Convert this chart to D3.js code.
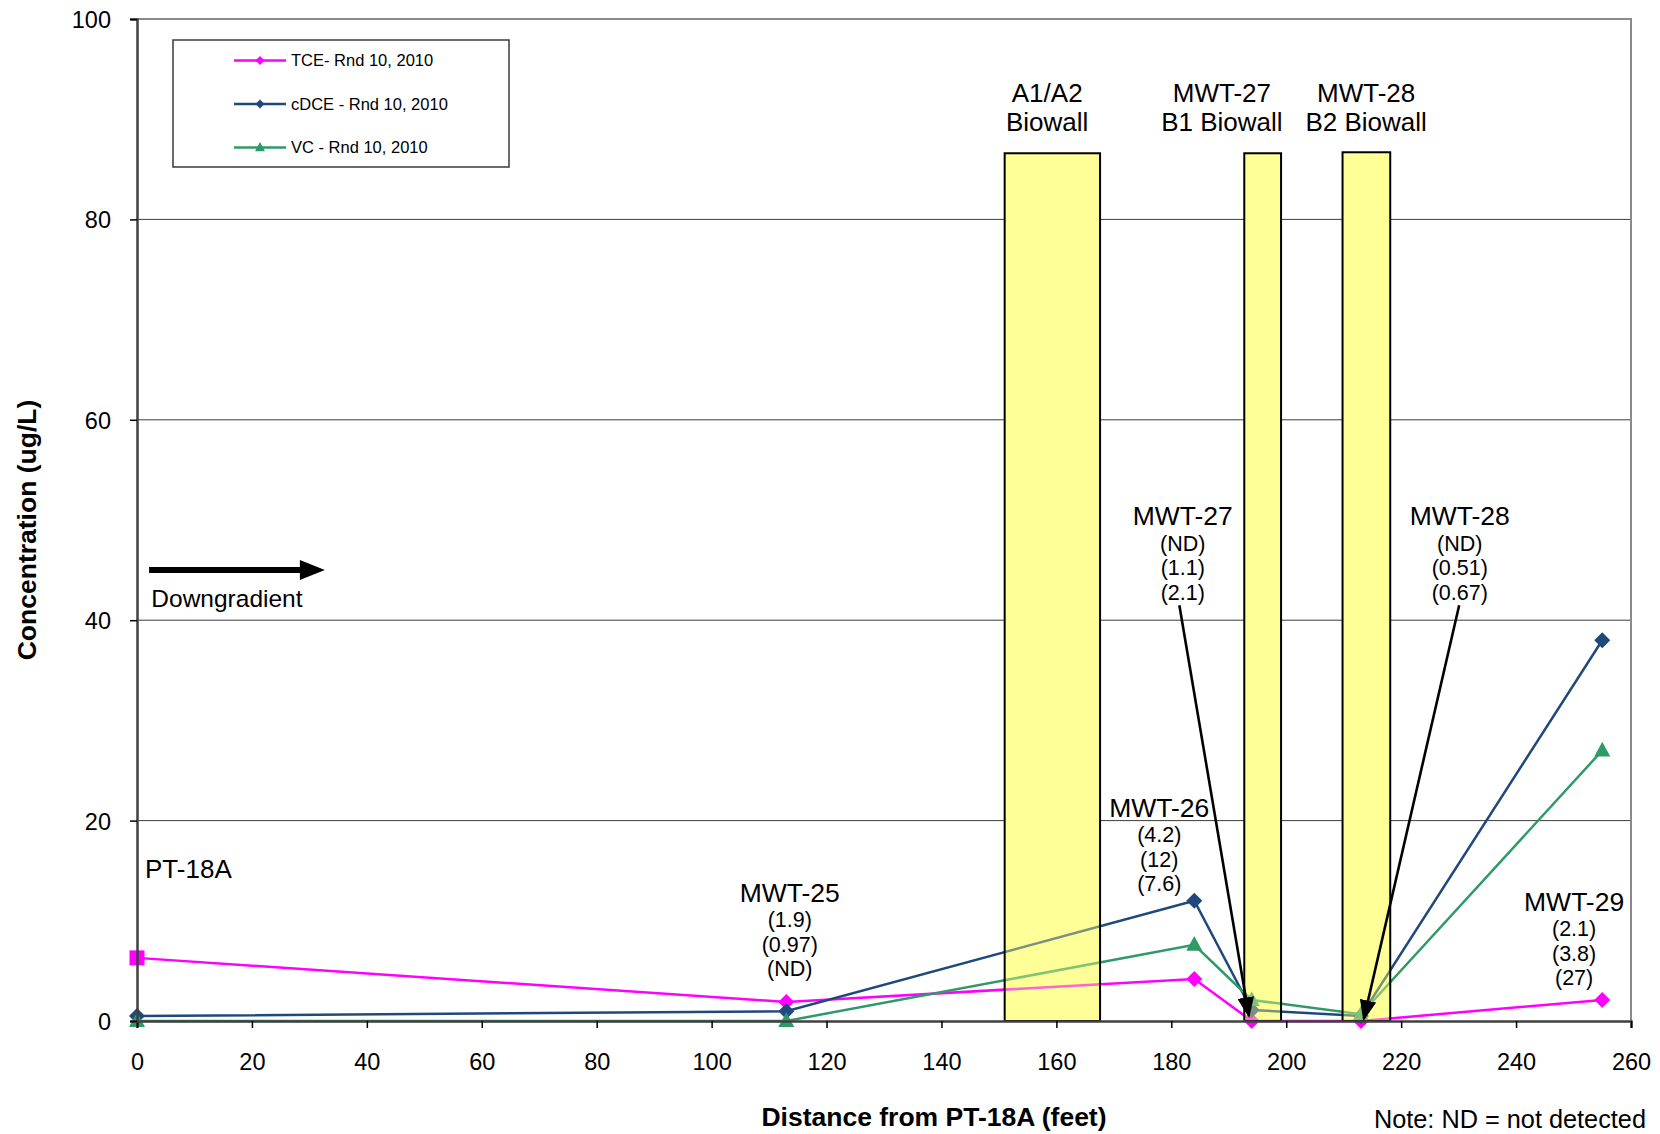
<!DOCTYPE html>
<html>
<head>
<meta charset="utf-8">
<script src="https://cdn.jsdelivr.net/npm/d3@7"></script>
<style>
  body { margin: 0; background: #fff; }
  text { font-family: "Liberation Sans", Arial, sans-serif; fill: #000; }
</style>
</head>
<body>
<div id="chart"></div>
<script>
// wells along the transect
const wells = ['PT-18A', 'MWT-25', 'MWT-26', 'MWT-27', 'MWT-28', 'MWT-29']
const distance = [0, 113, 184, 194, 213, 255]
const tce = [6.3, 1.9, 4.2, 0, 0, 2.1]
const cdce = [0.5, 0.97, 12, 1.1, 0.51, 38]
const vc = [0, 0, 7.6, 2.1, 0.67, 27]

const seriesNames = ['TCE- Rnd 10, 2010', 'cDCE - Rnd 10, 2010', 'VC - Rnd 10, 2010']
const seriesColors = ['#ff00ff', '#1f497d', '#2e9a68']

const xTicks = [0, 20, 40, 60, 80, 100, 120, 140, 160, 180, 200, 220, 240, 260]
const yTicks = [0, 20, 40, 60, 80, 100]

// biowalls (feet, ug/L)
const wallStart = [151, 192.7, 209.8]
const wallEnd = [167.6, 199.1, 218.1]
const wallTop = [86.6, 86.6, 86.7]
const wallLabel = [['A1/A2', 'Biowall'], ['MWT-27', 'B1 Biowall'], ['MWT-28', 'B2 Biowall']]
const wallLabelX = [158.4, 188.8, 213.9]
const wallLabelY = 92.6

// well labels with measured values (TCE, cDCE, VC)
const labelWell = ['MWT-25', 'MWT-26', 'MWT-27', 'MWT-28', 'MWT-29']
const labelX = [113.6, 177.9, 182.0, 230.2, 250.1]
const labelY = [12.8, 21.3, 50.4, 50.4, 11.9]
const labelValues = [
  ['(1.9)', '(0.97)', '(ND)'],
  ['(4.2)', '(12)', '(7.6)'],
  ['(ND)', '(1.1)', '(2.1)'],
  ['(ND)', '(0.51)', '(0.67)'],
  ['(2.1)', '(3.8)', '(27)']
]
// callout arrows [x0, y0, x1, y1]
const callouts = [[181.4, 41.5, 193.5, 0.5], [230.1, 41.5, 213.5, 0.2]]

// marker outlines, r = half width
const diamond = r => `M0,${-r}L${r},0L0,${r}L${-r},0Z`
const triangle = r => `M0,${-r * 1.1}L${r},${r * 0.75}L${-r},${r * 0.75}Z`
const square = r => `M${-r},${-r}H${r}V${r}H${-r}Z`

class BiowallChart {
  constructor (conf) {
    this.width = conf.width
    this.height = conf.height
    this.left = 137
    this.right = 1631
    this.top = 19
    this.bottom = 1021
    this.initSvg(conf.id)
  }

  initSvg (id) {
    this.svg = d3.select(`#${id}`)
      .append('svg')
      .attr('width', this.width)
      .attr('height', this.height)
    const defs = this.svg.append('defs')
    defs.append('marker')
      .attr('id', 'head')
      .attr('viewBox', '0 0 10 8')
      .attr('refX', 9).attr('refY', 4)
      .attr('markerWidth', 8).attr('markerHeight', 6.4)
      .attr('markerUnits', 'strokeWidth')
      .attr('orient', 'auto')
      .append('path')
      .attr('d', 'M0,0 L10,4 L0,8 Z')
      .attr('fill', '#000')
    this.x = d3.scaleLinear().domain([0, 260]).range([this.left, this.right])
    this.y = d3.scaleLinear().domain([0, 100]).range([this.bottom, this.top])
  }

  draw () {
    this.drawGrid()
    this.drawWalls(true)
    this.drawSeries()
    this.drawWalls(false)
    this.drawAxes()
    this.drawNotes()
    this.drawLegend()
  }

  drawGrid () {
    const g = this.svg.append('g')
    g.selectAll('line')
      .data(yTicks.filter(d => d > 0 && d < 100))
      .join('line')
      .attr('x1', this.left).attr('x2', this.right)
      .attr('y1', d => this.y(d)).attr('y2', d => this.y(d))
      .attr('stroke', '#3c3c3c').attr('stroke-width', 1)
    // top and right frame
    g.append('path')
      .attr('d', `M${this.left},${this.y(100)} H${this.right} V${this.bottom}`)
      .attr('fill', 'none').attr('stroke', '#8a8a8a').attr('stroke-width', 2)
  }

  drawWalls (base) {
    const g = this.svg.append('g')
    g.selectAll('rect')
      .data(wallStart)
      .join('rect')
      .attr('x', (d, i) => this.x(d))
      .attr('y', (d, i) => this.y(wallTop[i]))
      .attr('width', (d, i) => this.x(wallEnd[i]) - this.x(d))
      .attr('height', (d, i) => this.y(0) - this.y(wallTop[i]))
      .attr('fill', base ? '#ffffa2' : '#ffff88')
      .attr('fill-opacity', base ? 1 : 0.4)
      .attr('stroke', base ? 'none' : '#000')
      .attr('stroke-width', 2)
  }

  drawSeries () {
    const sets = [tce, cdce, vc]
    const line = d3.line()
      .x((d, i) => this.x(distance[i]))
      .y(d => this.y(d))
    sets.forEach((values, s) => {
      const g = this.svg.append('g')
      g.append('path')
        .attr('d', line(values))
        .attr('fill', 'none')
        .attr('stroke', seriesColors[s])
        .attr('stroke-width', 2.5)
      g.selectAll('path.pt')
        .data(values)
        .join('path')
        .attr('class', 'pt')
        .attr('transform', (d, i) => `translate(${this.x(distance[i])},${this.y(d)})`)
        .attr('d', (d, i) => {
          // PT-18A TCE sample plotted as a square
          if (s === 0 && i === 0) return square(7.5)
          return s === 2 ? triangle(8) : diamond(8)
        })
        .attr('fill', seriesColors[s])
    })
  }

  drawAxes () {
    const xAxis = d3.axisBottom(this.x).tickValues(xTicks).tickSize(7).tickPadding(25)
    const yAxis = d3.axisLeft(this.y).tickValues(yTicks).tickSize(7).tickPadding(19)
    const gx = this.svg.append('g')
      .attr('transform', `translate(0,${this.bottom})`)
      .call(xAxis)
    const gy = this.svg.append('g')
      .attr('transform', `translate(${this.left},0)`)
      .call(yAxis)
    gx.select('.domain').attr('stroke', '#404040').attr('stroke-width', 2.5)
    gy.select('.domain').attr('stroke', '#404040').attr('stroke-width', 2.5)
    gx.selectAll('.tick line').attr('stroke', '#000').attr('stroke-width', 1.5)
    gy.selectAll('.tick line').attr('stroke', '#000').attr('stroke-width', 1.5)
    gx.selectAll('text').style('font-size', '23.5px').attr('fill', '#000')
    gy.selectAll('text').style('font-size', '23.5px').attr('fill', '#000')
      .attr('dy', '0.36em')

    this.svg.append('text')
      .attr('x', 934).attr('y', 1126)
      .attr('text-anchor', 'middle')
      .style('font-size', '26.5px').style('font-weight', 'bold')
      .text('Distance from PT-18A (feet)')
    this.svg.append('text')
      .attr('transform', 'translate(36,530) rotate(-90)')
      .attr('text-anchor', 'middle')
      .style('font-size', '26.5px').style('font-weight', 'bold')
      .text('Concentration (ug/L)')
    this.svg.append('text')
      .attr('x', 1646).attr('y', 1128)
      .attr('text-anchor', 'end')
      .style('font-size', '25.3px')
      .text('Note: ND = not detected')
  }

  drawNotes () {
    const g = this.svg.append('g')
    // biowall titles
    wallLabel.forEach((lines, i) => {
      lines.forEach((t, k) => {
        g.append('text')
          .attr('x', this.x(wallLabelX[i]))
          .attr('y', this.y(wallLabelY) + k * 28.5)
          .attr('dy', '0.35em')
          .attr('text-anchor', 'middle')
          .style('font-size', '26px')
          .text(t)
      })
    })
    // well labels
    labelWell.forEach((w, i) => {
      const cx = this.x(labelX[i])
      const cy = this.y(labelY[i])
      g.append('text')
        .attr('x', cx).attr('y', cy).attr('dy', '0.35em')
        .attr('text-anchor', 'middle')
        .style('font-size', '26.5px')
        .text(w)
      labelValues[i].forEach((v, k) => {
        g.append('text')
          .attr('x', cx).attr('y', cy + 27 + k * 24.5).attr('dy', '0.35em')
          .attr('text-anchor', 'middle')
          .style('font-size', '21.5px')
          .text(v)
      })
    })
    g.append('text')
      .attr('x', this.x(1.4)).attr('y', this.y(15.2)).attr('dy', '0.35em')
      .style('font-size', '26px')
      .text(wells[0])
    // callout arrows
    g.selectAll('line.callout')
      .data(callouts)
      .join('line')
      .attr('class', 'callout')
      .attr('x1', d => this.x(d[0])).attr('y1', d => this.y(d[1]))
      .attr('x2', d => this.x(d[2])).attr('y2', d => this.y(d[3]))
      .attr('stroke', '#000').attr('stroke-width', 2.6)
      .attr('marker-end', 'url(#head)')
    // downgradient arrow
    const ay = this.y(45)
    const ax0 = this.x(2.1)
    const ax1 = this.x(32.7)
    g.append('line')
      .attr('x1', ax0).attr('x2', ax1 - 22)
      .attr('y1', ay).attr('y2', ay)
      .attr('stroke', '#000').attr('stroke-width', 6)
    g.append('path')
      .attr('d', `M${ax1 - 25},${ay - 10} L${ax1},${ay} L${ax1 - 25},${ay + 10} Z`)
      .attr('fill', '#000')
    g.append('text')
      .attr('x', this.x(2.5)).attr('y', this.y(42.2)).attr('dy', '0.35em')
      .style('font-size', '24.5px')
      .text('Downgradient')
  }

  drawLegend () {
    const g = this.svg.append('g')
    g.append('rect')
      .attr('x', 173).attr('y', 40).attr('width', 336).attr('height', 127)
      .attr('fill', '#fff').attr('stroke', '#3a3a3a').attr('stroke-width', 1.5)
    seriesNames.forEach((name, i) => {
      const yy = 60.5 + i * 43.5
      g.append('line')
        .attr('x1', 234).attr('x2', 286).attr('y1', yy).attr('y2', yy)
        .attr('stroke', seriesColors[i]).attr('stroke-width', 2.5)
      g.append('path')
        .attr('transform', `translate(260,${yy})`)
        .attr('d', i === 2 ? triangle(5) : diamond(4.5))
        .attr('fill', seriesColors[i])
      g.append('text')
        .attr('x', 291).attr('y', yy).attr('dy', '0.36em')
        .style('font-size', '16.5px')
        .text(name)
    })
  }
}

const chart = new BiowallChart({ id: 'chart', width: 1660, height: 1134 })
chart.draw()
</script>
</body>
</html>
